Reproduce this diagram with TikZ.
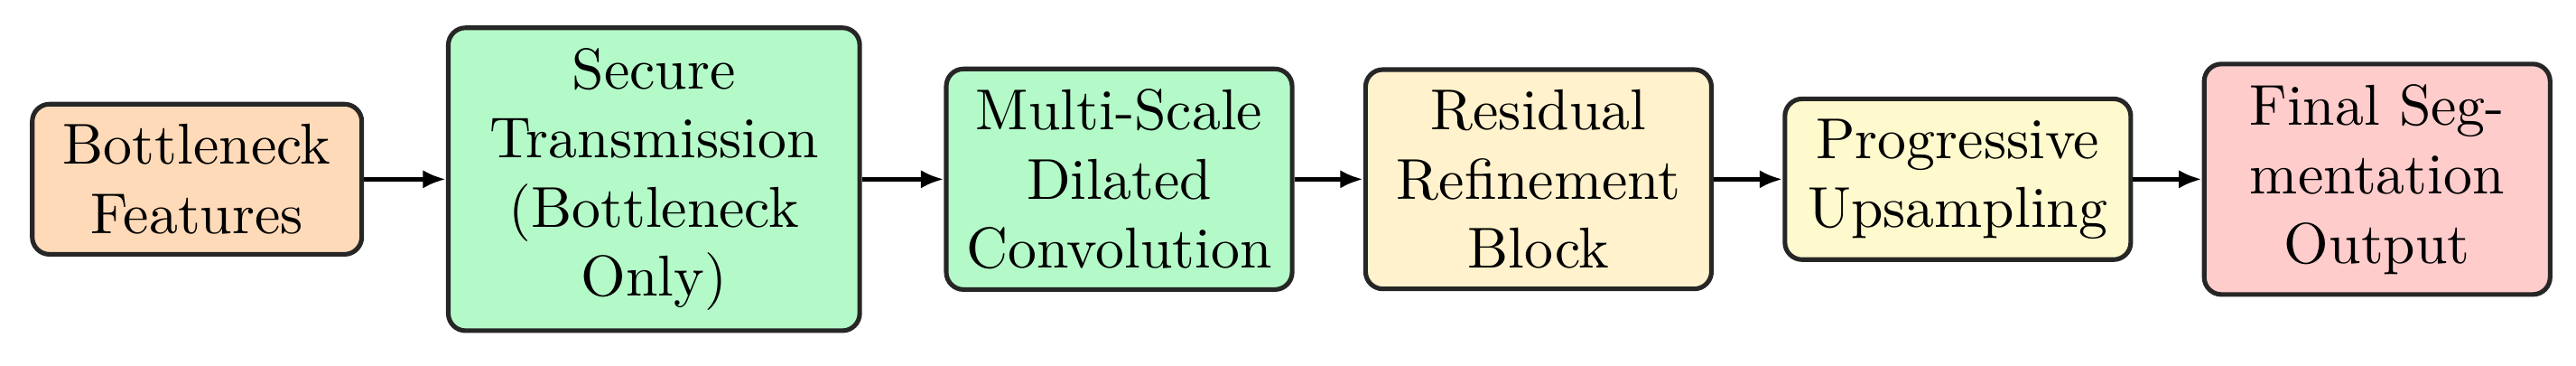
\documentclass[tikz,border=0pt]{standalone}
\usetikzlibrary{positioning,arrows.meta}
\definecolor{peach}{RGB}{255,218,185}
\definecolor{mint}{RGB}{180,250,200}
\definecolor{cream}{RGB}{255,242,204}
\definecolor{lemon}{RGB}{255,250,205}
\definecolor{rose}{RGB}{255,204,204}
\begin{document}
\begin{tikzpicture}[node distance={4.2mm}, thick, >={Latex[length=4pt,width=3.2pt]},
        main/.style = {draw=black!85, rounded corners=3pt, align=center, text width=1.9cm, inner xsep=3pt, inner ysep=3.5pt}]
        \node[main, fill=peach, text width=1.8cm] (1) {Bottleneck\\Features};
        \node[main, fill=mint, text width=2.3cm] (2) [right=5mm of 1] {Secure\\Transmission\\(Bottleneck\\Only)};
        \node[main, fill=mint] (3) [right=5mm of 2] {Multi-Scale\\Dilated\\Convolution};
        \node[main, fill=cream] (4) [right=of 3] {Residual\\Refinement\\Block};
        \node[main, fill=lemon] (5) [right=of 4] {Progressive\\Upsampling};
        \node[main, fill=rose] (6) [right=of 5] {Final Seg-\\mentation\\Output};
        \draw[->] (1) -- (2);
        \draw[->] (2) -- (3);
        \draw[->] (3) -- (4);
        \draw[->] (4) -- (5);
        \draw[->] (5) -- (6);
        \useasboundingbox ([xshift=-5.2pt, yshift=31.1pt]1.west) rectangle ([xshift=4.1pt, yshift=-32.25pt]6.east);
    \end{tikzpicture}
\end{document}
